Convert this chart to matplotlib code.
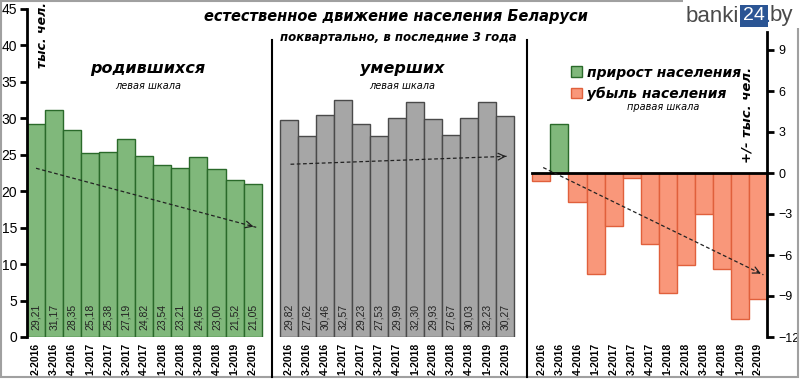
import matplotlib.pyplot as plt
import numpy as np
from matplotlib.patches import Patch, Rectangle
from matplotlib.lines import Line2D

# data
quarters = ["2-2016", "3-2016", "4-2016", "1-2017", "2-2017", "3-2017", "4-2017",
            "1-2018", "2-2018", "3-2018", "4-2018", "1-2019", "2-2019"]
births = [29.21, 31.17, 28.35, 25.18, 25.38, 27.19, 24.82, 23.54, 23.21, 24.65, 23.00, 21.52, 21.05]
deaths = [29.82, 27.62, 30.46, 32.57, 29.23, 27.53, 29.99, 32.30, 29.93, 27.67, 30.03, 32.23, 30.27]
change = [-0.61, 3.55, -2.11, -7.39, -3.85, -0.34, -5.17, -8.76, -6.72, -3.02, -7.03, -10.71, -9.22]

# trend arrows (start, end)
births_trend_x = [0.0, 12.2]
births_trend_y = [23.15, 15.05]
deaths_trend_x = [14.1, 26.2]
deaths_trend_y = [23.7, 24.8]
change_trend_x = [28.1, 40.3]
change_trend_y = [0.4, -7.45]

W, H = 800, 379
fig = plt.figure(figsize=(W / 100, H / 100), dpi=100)
ax = fig.add_axes([27 / W, 1 - 337 / H, 740 / W, 328 / H])
ax.patch.set_alpha(0)
ax2 = ax.twinx()
ax2.patch.set_alpha(0)
ax.set_zorder(2)

n = len(quarters)
xb = np.arange(n)
xd = xb + 14
xc = xb + 28

green, green_e = "#80b87b", "#2a6a2a"
grey, grey_e = "#a6a6a6", "#4a4a4a"
orange, orange_e = "#f9977a", "#e0603c"

ax.bar(xb, births, width=1.0, color=green, edgecolor=green_e, linewidth=1)
ax.bar(xd, deaths, width=1.0, color=grey, edgecolor=grey_e, linewidth=1)
for x, v in zip(xb, births):
    ax.text(x, 1.0, f"{v:.2f}".replace(".", ","), rotation=90, ha="center",
            va="bottom", fontsize=7.5, color="#222222", family="Liberation Sans")
for x, v in zip(xd, deaths):
    ax.text(x, 1.0, f"{v:.2f}".replace(".", ","), rotation=90, ha="center",
            va="bottom", fontsize=7.5, color="#222222", family="Liberation Sans")

cols = [green if v > 0 else orange for v in change]
ecols = [green_e if v > 0 else orange_e for v in change]
ax2.bar(xc, change, width=1.0, color=cols, edgecolor=ecols, linewidth=1)
ax2.plot([27.5, 40.5], [0, 0], color="black", lw=2)

# trend arrows
for tx, ty, a in [(births_trend_x, births_trend_y, ax),
                  (deaths_trend_x, deaths_trend_y, ax),
                  (change_trend_x, change_trend_y, ax2)]:
    a.plot(tx, ty, ls=(0, (3, 2)), color="#222222", lw=0.9, zorder=5)
    dx = (tx[1] - tx[0]) * 0.04
    dy = (ty[1] - ty[0]) * 0.04
    a.annotate("", xy=(tx[1], ty[1]), xytext=(tx[1] - dx, ty[1] - dy),
               arrowprops=dict(arrowstyle="->", color="#222222", lw=0.9,
                               mutation_scale=12), zorder=5)

ax.set_xlim(-0.5, 40.5)
ax.set_ylim(0, 45)
ax.set_yticks(np.arange(0, 46, 5))
ax2.set_ylim(-12, 12)
ax2.set_yticks([-12, -9, -6, -3, 0, 3, 6, 9])

ax.set_xticks(np.concatenate([xb, xd, xc]))
ax.set_xticklabels(quarters * 3, rotation=90, fontsize=7.5, fontweight="bold",
                   family="Liberation Sans")
ax.tick_params(axis="x", length=0, pad=4)

for s in ["top", "right", "bottom"]:
    ax.spines[s].set_visible(False)
for s in ["top", "left", "bottom"]:
    ax2.spines[s].set_visible(False)
ax.spines["left"].set_linewidth(2)
ax2.spines["right"].set_linewidth(2)
ax2.spines["right"].set_bounds(-12, 10.3)
ax.tick_params(axis="y", length=5, width=2, labelsize=10, pad=2)
ax2.tick_params(axis="y", length=5, width=2, labelsize=9, pad=3)
for lab in ax.get_yticklabels() + ax2.get_yticklabels():
    lab.set_family("Liberation Sans")

# separators and frame
for px in [272, 527]:
    fig.add_artist(Line2D([px / W, px / W], [1 - 40 / H, 1 - 377 / H],
                          color="black", lw=1.5))
fig.add_artist(Rectangle((0.001, 1 - 377 / H), 0.997, 376 / H, fill=False,
                         edgecolor="#a0a0a0", lw=1.5, transform=fig.transFigure))

bi = dict(family="DejaVu Sans", fontweight="bold", style="italic", color="black")
it = dict(family="DejaVu Sans", style="italic", color="black")
fig.text(396 / W, 1 - 17 / H, "естественное движение населения Беларуси",
         ha="center", va="center", fontsize=10.5, **bi)
fig.text(398 / W, 1 - 38 / H, "поквартально, в последние 3 года",
         ha="center", va="center", fontsize=8.5, **bi)
fig.text(148 / W, 1 - 68 / H, "родившихся", ha="center", va="center", fontsize=11.5, **bi)
fig.text(148 / W, 1 - 86 / H, "левая шкала", ha="center", va="center", fontsize=7, **it)
fig.text(402 / W, 1 - 68 / H, "умерших", ha="center", va="center", fontsize=11.5, **bi)
fig.text(402 / W, 1 - 86 / H, "левая шкала", ha="center", va="center", fontsize=7, **it)
fig.text(663 / W, 1 - 107 / H, "правая шкала", ha="center", va="center", fontsize=7, **it)
fig.text(42 / W, 1 - 35 / H, "тыс. чел.", rotation=90, ha="center", va="center",
         fontsize=9, **bi)
fig.text(747 / W, 1 - 115 / H, "+/- тыс. чел.", rotation=90, ha="center", va="center",
         fontsize=9.5, **bi)

# legend
handles = [Patch(facecolor=green, edgecolor=green_e), Patch(facecolor=orange, edgecolor=orange_e)]
fig.legend(handles, ["прирост населения", "убыль населения"], loc="upper left",
           bbox_to_anchor=(558 / W, 1 - 53 / H), frameon=False, handlelength=0.8,
           handleheight=0.8, handletextpad=0.4, labelspacing=0.5,
           prop=dict(family="DejaVu Sans", weight="bold", style="italic", size=10))

# logo
fig.add_artist(Rectangle((683 / W, 1 - 28 / H), 117 / W, 28 / H, facecolor="white",
                         edgecolor="none", transform=fig.transFigure, zorder=10))
fig.text(686 / W, 1 - 16 / H, "banki", ha="left", va="center", fontsize=16,
         color="#4a4a4a", family="Liberation Sans", zorder=11)
fig.text(754 / W, 1 - 16 / H, "24", ha="center", va="center", fontsize=14,
         color="white", family="Liberation Sans", zorder=11,
         bbox=dict(boxstyle="square,pad=0.15", facecolor="#2b5594", edgecolor="none"))
fig.text(765 / W, 1 - 16 / H, ".", ha="left", va="center", fontsize=16,
         color="#2b5594", family="Liberation Sans", zorder=11)
fig.text(770 / W, 1 - 16 / H, "by", ha="left", va="center", fontsize=16,
         color="#4a4a4a", family="Liberation Sans", zorder=11)

fig.savefig("out.png", dpi=100)
